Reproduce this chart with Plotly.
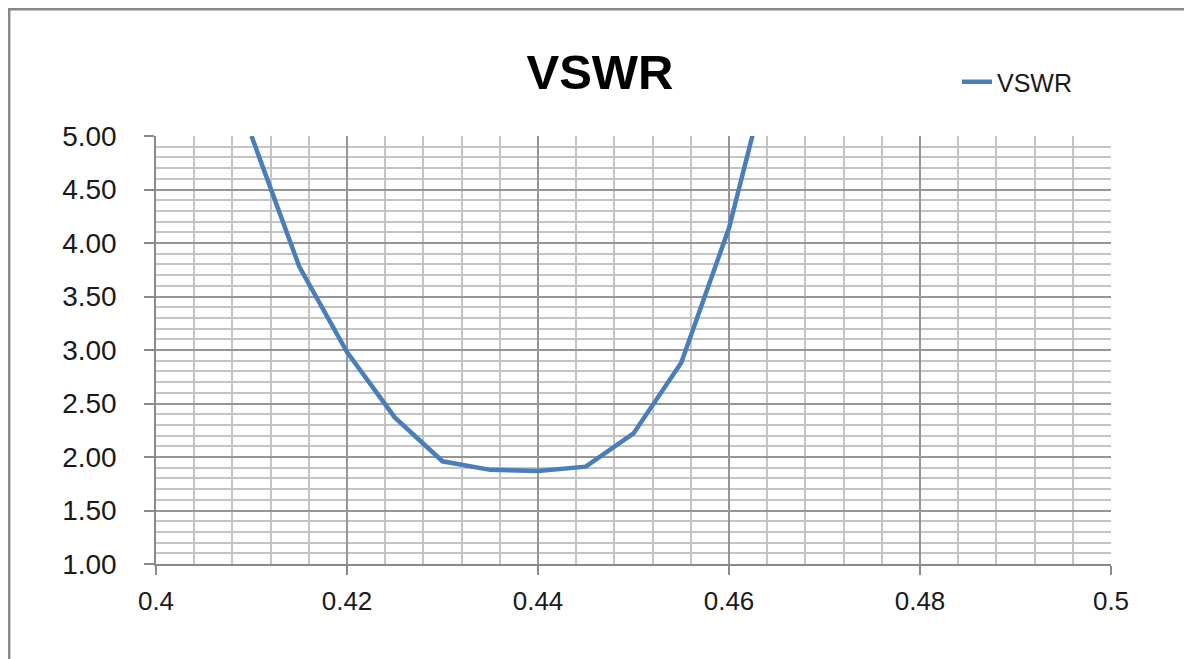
import plotly.graph_objects as go

freq = [0.41, 0.415, 0.42, 0.425, 0.43, 0.435, 0.44, 0.445, 0.45, 0.455, 0.46, 0.465]
vswr = [5.00, 3.78, 2.98, 2.37, 1.96, 1.88, 1.87, 1.91, 2.22, 2.88, 4.14, 5.90]

# the page body adds an 8px offset; positions below are reference pixels minus 8
OFF = 8
W, H = 1192, 659
L = 156 - OFF
T = 136 - OFF
R = W - (1111 - OFF)
B = H - (564 - OFF)
pw, ph = W - L - R, H - T - B

FONT = "Liberation Sans"
MAJOR = "#969696"
MINOR = "#c4c4c4"

fig = go.Figure()
fig.add_trace(go.Scatter(
    x=freq, y=vswr, mode="lines", name="VSWR",
    line=dict(color="#4a7ebb", width=4.5),
))

fig.update_layout(
    width=W, height=H,
    margin=dict(l=L, r=R, t=T, b=B),
    paper_bgcolor="white", plot_bgcolor="white",
    title=dict(text="<b>VSWR</b>", x=(600 - OFF - L) / pw, xref="paper", xanchor="center",
               y=1 - (72 - OFF) / H, yanchor="middle",
               font=dict(family=FONT, size=49, color="black")),
    showlegend=True,
    legend=dict(x=(957 - OFF - L) / pw, y=(H - B - (82 - OFF)) / ph, xanchor="left", yanchor="middle",
                font=dict(family=FONT, size=25, color="#1a1a1a"),
                bgcolor="rgba(0,0,0,0)", borderwidth=0),
    xaxis=dict(
        range=[0.4, 0.5], dtick=0.02, tick0=0.4,
        showgrid=True, gridcolor=MAJOR, gridwidth=1.5,
        minor=dict(dtick=0.004, tick0=0.4, showgrid=True, gridcolor=MINOR, gridwidth=1.5, ticks=""),
        showline=True, linecolor="#8a8a8a", linewidth=1.5,
        ticks="outside", ticklen=9, tickcolor="#8a8a8a", tickwidth=1.5,
        ticklabelstandoff=4,
        tickfont=dict(family=FONT, size=26, color="#1a1a1a"),
        zeroline=False, fixedrange=True,
    ),
    yaxis=dict(
        range=[1, 5], dtick=0.5, tick0=1, tickformat=".2f",
        showgrid=True, gridcolor=MAJOR, gridwidth=1.5,
        minor=dict(dtick=0.1, tick0=1, showgrid=True, gridcolor=MINOR, gridwidth=1.5, ticks=""),
        showline=True, linecolor="#8a8a8a", linewidth=1.5,
        ticks="outside", ticklen=10, tickcolor="#8a8a8a", tickwidth=1.5,
        ticklabelstandoff=22,
        tickfont=dict(family=FONT, size=28, color="#1a1a1a"),
        zeroline=False, fixedrange=True,
    ),
)

# outer chart border (top and left visible)
fig.add_shape(type="rect", xref="paper", yref="paper",
              x0=(1.2 - L) / pw, x1=(W + 10 - L) / pw,
              y0=(H - B - (H + 10)) / ph, y1=(H - B - 1.2) / ph,
              line=dict(color="#888888", width=2.4), fillcolor="rgba(0,0,0,0)", layer="below")

fig.write_html("out.html")
